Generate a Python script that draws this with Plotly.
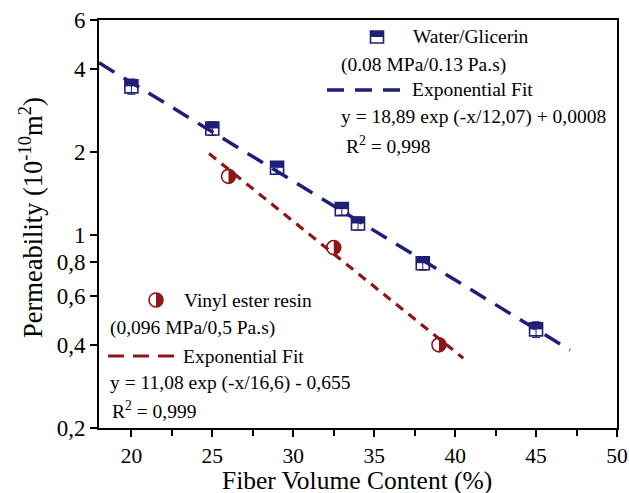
import math
import plotly.graph_objects as go

# ---- data ----
water_x = [20, 25, 29, 33, 34, 38, 45]
water_y = [3.45, 2.43, 1.75, 1.24, 1.10, 0.79, 0.455]
water_err = [0.22, 0.14, 0.09, 0.06, 0.06, 0.045, 0.03]

vinyl_x = [26, 32.5, 39]
vinyl_y = [1.63, 0.90, 0.40]

water_fit_x = [18, 47.1]
water_fit_y = [4.2, 0.383]
vinyl_fit_x = [24.8, 40.5]
vinyl_fit_y = [1.97, 0.358]

x_ticks = [20, 25, 30, 35, 40, 45, 50]
y_ticks = [0.2, 0.4, 0.6, 0.8, 1, 2, 4, 6]
y_ticktext = ["0,2", "0,4", "0,6", "0,8", "1", "2", "4", "6"]

BLUE = "#1f1f7a"
RED = "#8e1616"
FONT = "Liberation Serif"


def half_disc_path(r):
    pts = []
    for k in range(0, 19):
        a = math.radians(-90 + 10 * k)
        pts.append((r * math.cos(a), r * math.sin(a)))
    s = "M%.2f,%.2f " % pts[0]
    s += " ".join("L%.2f,%.2f" % p for p in pts[1:])
    return s + " Z"


HALF = half_disc_path(7)

fig = go.Figure()

# fit lines
fig.add_trace(go.Scatter(x=water_fit_x, y=water_fit_y, mode="lines",
                         line=dict(color=BLUE, width=3.5, dash="18px,11px"),
                         showlegend=False, hoverinfo="skip"))
fig.add_trace(go.Scatter(x=vinyl_fit_x, y=vinyl_fit_y, mode="lines",
                         line=dict(color=RED, width=3.2, dash="9px,7px"),
                         showlegend=False, hoverinfo="skip"))

# data points (outlines + error bars)
fig.add_trace(go.Scatter(x=water_x, y=water_y, mode="markers",
                         marker=dict(symbol="square-open", size=13, color=BLUE,
                                     line=dict(color=BLUE, width=1.6)),
                         error_y=dict(type="data", array=water_err, color=BLUE,
                                      thickness=1, width=4),
                         showlegend=False))
fig.add_trace(go.Scatter(x=vinyl_x, y=vinyl_y, mode="markers",
                         marker=dict(symbol="circle-open", size=14, color=RED,
                                     line=dict(color=RED, width=1.6)),
                         showlegend=False))

shapes = []
# half fills on the data markers
for xv, yv in zip(water_x, water_y):
    shapes.append(dict(type="rect", xref="x", yref="y",
                       xsizemode="pixel", ysizemode="pixel",
                       xanchor=xv, yanchor=yv, x0=-6.5, x1=6.5, y0=0, y1=6.5,
                       fillcolor=BLUE, line=dict(width=0), layer="above"))
for xv, yv in zip(vinyl_x, vinyl_y):
    shapes.append(dict(type="path", xref="x", yref="y",
                       xsizemode="pixel", ysizemode="pixel",
                       xanchor=xv, yanchor=yv, path=HALF,
                       fillcolor=RED, line=dict(width=0), layer="above"))


def px2paper(px, py):
    return (px - 99) / 518.0, (428 - py) / 408.0


# legend symbols
lx, ly = px2paper(377, 37)
shapes.append(dict(type="rect", xref="paper", yref="paper",
                   xsizemode="pixel", ysizemode="pixel", xanchor=lx, yanchor=ly,
                   x0=-6.5, x1=6.5, y0=-6, y1=6, fillcolor="white",
                   line=dict(color=BLUE, width=1.6)))
shapes.append(dict(type="rect", xref="paper", yref="paper",
                   xsizemode="pixel", ysizemode="pixel", xanchor=lx, yanchor=ly,
                   x0=-6.5, x1=6.5, y0=0, y1=6, fillcolor=BLUE,
                   line=dict(width=0)))
cx, cy = px2paper(156, 300)
shapes.append(dict(type="circle", xref="paper", yref="paper",
                   xsizemode="pixel", ysizemode="pixel", xanchor=cx, yanchor=cy,
                   x0=-7, x1=7, y0=-7, y1=7, fillcolor="white",
                   line=dict(color=RED, width=1.6)))
shapes.append(dict(type="path", xref="paper", yref="paper",
                   xsizemode="pixel", ysizemode="pixel", xanchor=cx, yanchor=cy,
                   path=HALF, fillcolor=RED, line=dict(width=0)))
# legend dashes
a0, b0 = px2paper(327, 90)
a1, _ = px2paper(400, 90)
shapes.append(dict(type="line", xref="paper", yref="paper", x0=a0, x1=a1, y0=b0, y1=b0,
                   line=dict(color=BLUE, width=3.5, dash="17px,11px")))
a0, b0 = px2paper(108, 356)
a1, _ = px2paper(176, 356)
shapes.append(dict(type="line", xref="paper", yref="paper", x0=a0, x1=a1, y0=b0, y1=b0,
                   line=dict(color=RED, width=3.2, dash="16px,9px")))

annotations = []
legend_texts = [
    (411, 37, "Water/Glicerin"),
    (339, 65, "(0.08 MPa/0.13 Pa.s)"),
    (410, 90, "Exponential Fit"),
    (339, 117, "y = 18,89 exp (-x/12,07) + 0,0008"),
    (344, 145, "R<sup>2</sup> = 0,998"),
    (182, 300, "Vinyl ester resin"),
    (108, 328, "(0,096 MPa/0,5 Pa.s)"),
    (181, 356, "Exponential Fit"),
    (108, 383, "y = 11,08 exp (-x/16,6) - 0,655"),
    (110, 410, "R<sup>2</sup> = 0,999"),
]
for px, py, t in legend_texts:
    ax_, ay_ = px2paper(px, py)
    annotations.append(dict(x=ax_, y=ay_, xref="paper", yref="paper", text=t,
                            showarrow=False, xanchor="left", yanchor="middle",
                            font=dict(family=FONT, size=19.5, color="black")))

# axis titles as text
tx, ty = px2paper(31, 218)
annotations.append(dict(x=tx, y=ty, xref="paper", yref="paper",
                        text="Permeability (10<sup>-10</sup>m<sup>2</sup>)",
                        textangle=-90, showarrow=False, xanchor="center", yanchor="middle",
                        font=dict(family=FONT, size=26.5, color="black")))
tx, ty = px2paper(357, 480)
annotations.append(dict(x=tx, y=ty, xref="paper", yref="paper",
                        text="Fiber Volume Content (%)",
                        showarrow=False, xanchor="center", yanchor="middle",
                        font=dict(family=FONT, size=25.5, color="black")))

fig.update_layout(
    width=629, height=493,
    margin=dict(l=99, r=12, t=20, b=65),
    paper_bgcolor="white", plot_bgcolor="white",
    font=dict(family=FONT, color="black"),
    shapes=shapes, annotations=annotations,
    showlegend=False,
)
fig.update_xaxes(
    range=[18, 50], tickvals=x_ticks, ticks="outside", ticklen=7, tickwidth=1.5,
    tickcolor="black", showline=True, linewidth=1.8, linecolor="black", mirror=True,
    showgrid=False, zeroline=False, tickfont=dict(family=FONT, size=21.5),
    automargin=False,
    minor=dict(tickvals=[22.5, 27.5, 32.5, 37.5, 42.5, 47.5], ticks="outside",
               ticklen=6, tickwidth=1.5, tickcolor="black", showgrid=False),
)
fig.update_yaxes(
    type="log", range=[-0.69897, 0.778151], tickvals=y_ticks, ticktext=y_ticktext,
    ticks="outside", ticklen=7, tickwidth=1.5, tickcolor="black",
    showline=True, linewidth=1.8, linecolor="black", mirror=True,
    showgrid=False, zeroline=False, tickfont=dict(family=FONT, size=23),
    automargin=False,
)

fig.write_html("out.html")
